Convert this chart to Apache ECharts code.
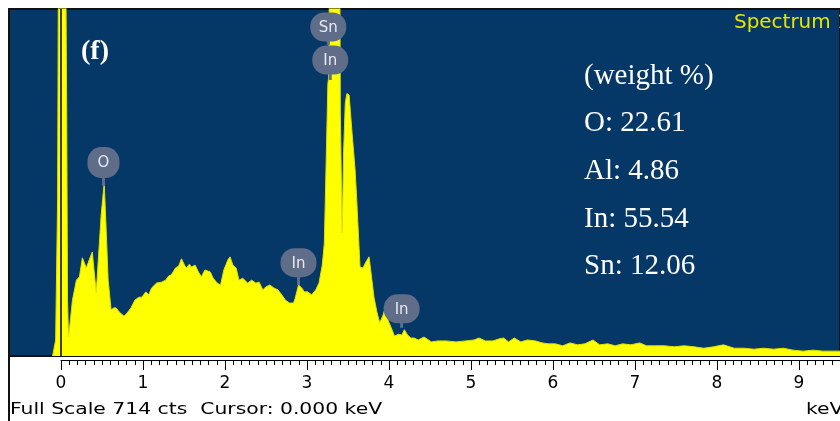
<!DOCTYPE html>
<html>
<head>
<meta charset="utf-8">
<style>html,body{margin:0;padding:0;background:#fff;}#c{width:840px;height:421px;}</style>
<script src="https://cdn.jsdelivr.net/npm/echarts@6/dist/echarts.min.js"></script>
</head>
<body>
<div id="c"></div>
<script>
// Spectrum: energy (keV) and counts
const energyKeV = [-0.097,-0.06,-0.036,-0.024,0.012,0.06,0.075,0.085,0.097,0.12,0.145,0.193,0.23,0.266,0.314,0.35,0.387,0.41,0.435,0.46,0.495,0.532,0.556,0.58,0.616,0.65,0.677,0.713,0.773,0.81,0.858,0.906,0.955,0.99,1.04,1.075,1.11,1.17,1.23,1.28,1.32,1.35,1.40,1.44,1.474,1.51,1.535,1.57,1.595,1.64,1.68,1.716,1.76,1.825,1.86,1.91,1.95,1.99,2.04,2.066,2.10,2.14,2.175,2.22,2.28,2.33,2.38,2.42,2.465,2.50,2.55,2.60,2.65,2.695,2.74,2.79,2.84,2.86,2.90,2.94,2.97,3.01,3.06,3.11,3.15,3.19,3.215,3.24,3.258,3.265,3.28,3.29,3.40,3.41,3.432,3.45,3.47,3.49,3.517,3.55,3.59,3.61,3.65,3.686,3.72,3.76,3.78,3.82,3.855,3.89,3.93,3.95,3.99,4.04,4.07,4.12,4.16,4.19,4.23,4.27,4.31,4.36,4.43,4.52,4.60,4.70,4.82,4.94,5.04,5.10,5.18,5.27,5.34,5.40,5.46,5.53,5.61,5.69,5.79,5.87,5.95,6.03,6.12,6.21,6.30,6.39,6.49,6.57,6.67,6.76,6.85,6.95,7.06,7.14,7.24,7.36,7.48,7.60,7.72,7.84,7.96,8.08,8.21,8.33,8.45,8.57,8.69,8.81,8.93,9.05,9.17,9.29,9.41,9.5];
const counts = [0,33,321,900,1000,900,500,115,39,74,115,156,163,202,181,198,214,173,130,198,290,356,259,156,95,99,99,91,82,88,99,115,121,121,132,126,140,150,152,156,165,167,181,185,200,187,181,189,183,187,173,163,177,173,160,150,146,177,198,204,187,181,156,160,150,156,150,152,136,142,146,140,136,126,115,109,109,119,146,140,132,132,126,136,150,187,232,420,560,570,800,1000,1000,500,253,420,520,540,537,465,383,321,183,181,193,204,177,121,91,68,84,95,74,54,41,45,43,54,43,37,37,33,39,29,31,31,29,31,33,37,31,31,35,37,29,37,29,33,31,27,25,25,21,27,23,25,33,23,25,21,25,23,27,21,21,21,19,21,19,16,19,23,16,16,14,16,14,16,12,10,12,10,10,10];

// Peak identification badges
const peakNames = ['Sn','In','O','In','In'];
const peakEnergy = [3.263,3.287,0.523,2.90,4.157];
const peakBadgeCounts = [677,609,398,192,97];
const peakStemEndCounts = [640,568,350,146,58];

// Axis ticks / annotations
const fullScale = 714;
const tickLabels = ['0','1','2','3','4','5','6','7','8','9'];
const compositionLines = ['(weight %)','O: 22.61','Al: 4.86','In: 55.54','Sn: 12.06'];
const panelLabel = '(f)';
const spectrumName = 'Spectrum 1';
const statusText = 'Full Scale 714 cts  Cursor: 0.000 keV';
const unitText = 'keV';

const spectrumData = energyKeV.map((e,i)=>[e,counts[i]]);
const badgeData = peakNames.map((n,i)=>[peakEnergy[i],peakBadgeCounts[i],peakStemEndCounts[i]]);

const chart = echarts.init(document.getElementById('c'));
const badgeColor = '#5f6d89';

const graphics = [
  {type:'line', shape:{x1:9,y1:9,x2:9,y2:421}, style:{stroke:'#111',lineWidth:2}, z:100},
  {type:'text', x:81, y:52, style:{text:panelLabel, fill:'#fff', font:'bold 28px "Liberation Serif"', verticalAlign:'middle'}, z:100},
  {type:'text', x:734, y:23, scaleX:1.05, style:{text:spectrumName, fill:'#e6e600', font:'19px "DejaVu Sans"', verticalAlign:'middle'}, z:100},
  {type:'text', x:10, y:410, scaleX:1.27, style:{text:statusText, fill:'#000', font:'16px "DejaVu Sans"', verticalAlign:'middle'}, z:100},
  {type:'text', x:806, y:410, scaleX:1.27, style:{text:unitText, fill:'#000', font:'16px "DejaVu Sans"', verticalAlign:'middle'}, z:100}
];
compositionLines.forEach((t,i)=>{
  graphics.push({type:'text', x:584, y:76+i*47.7, style:{text:t, fill:'#fff', font:'29px "Liberation Serif"', verticalAlign:'middle'}, z:100});
});

chart.setOption({
  animation:false,
  backgroundColor:'#ffffff',
  grid:[
    {left:9, top:9, right:-7, bottom:65, show:true, backgroundColor:'#053767', borderColor:'#111', borderWidth:2},
    {left:61, right:-7, top:300, bottom:61, show:false}
  ],
  xAxis:[
    {gridIndex:0, type:'value', min:-0.6284, max:9.5, show:false},
    {gridIndex:1, type:'value', min:0, max:9.5, interval:1, position:'bottom',
     axisLine:{show:true, onZero:false, lineStyle:{color:'#000', width:1}},
     axisTick:{show:true, length:10, lineStyle:{color:'#000', width:1}},
     minorTick:{show:true, splitNumber:10, length:5, lineStyle:{color:'#000', width:1}},
     splitLine:{show:false}, minorSplitLine:{show:false},
     axisLabel:{show:true, margin:15, color:'#000', fontSize:17, fontFamily:'DejaVu Sans', showMaxLabel:false,
       formatter:(v)=>{const i=Math.round(v); return Math.abs(v-i)<1e-6 && i>=0 && i<tickLabels.length ? tickLabels[i] : '';}}
    }
  ],
  yAxis:[
    {gridIndex:0, type:'value', min:0, max:fullScale, show:false},
    {gridIndex:1, type:'value', min:0, max:1, show:false}
  ],
  series:[
    {type:'line', xAxisIndex:0, yAxisIndex:0, data:spectrumData, symbol:'none', smooth:false, clip:true,
     lineStyle:{color:'#e0e000', width:1}, areaStyle:{color:'#ffff00', opacity:1},
     markLine:{silent:true, symbol:'none', label:{show:false}, lineStyle:{color:'#000', width:1.5, type:'solid'},
       data:[{xAxis:0}]}, z:2},
    {type:'custom', xAxisIndex:0, yAxisIndex:0, data:badgeData, clip:false, z:5,
     renderItem:(params, api)=>{
       const p = api.coord([api.value(0), api.value(1)]);
       const q = api.coord([api.value(0), api.value(2)]);
       const name = peakNames[params.dataIndex];
       const w = name.length>1 ? 36 : 32, h = name.length>1 ? 29 : 31;
       return {type:'group', children:[
         {type:'line', shape:{x1:p[0],y1:p[1],x2:q[0],y2:q[1]}, style:{stroke:badgeColor, lineWidth:3}},
         {type:'rect', shape:{x:p[0]-w/2, y:p[1]-h/2, width:w, height:h, r:14}, style:{fill:badgeColor}},
         {type:'text', style:{text:name, x:p[0], y:p[1]+1, align:'center', verticalAlign:'middle', fill:'#e8e8f2', font:'15px "DejaVu Sans"'}}
       ]};
     }}
  ],
  graphic:graphics
});
</script>
</body>
</html>
